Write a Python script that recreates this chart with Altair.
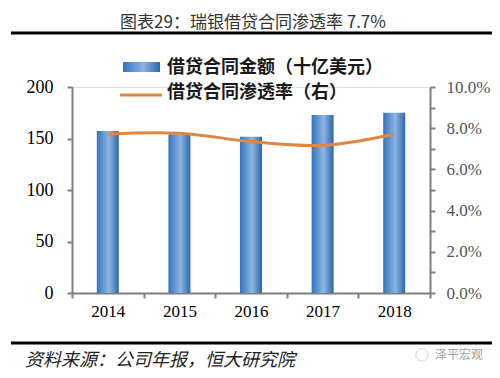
import altair as alt
import pandas as pd

years = ["2014", "2015", "2016", "2017", "2018"]
amount = [157.4, 154.2, 151.6, 172.9, 175.1]
rate = [0.0772, 0.0776, 0.0735, 0.0717, 0.0771]

title_text = "图表29：瑞银借贷合同渗透率 7.7%"
legend_bar = "借贷合同金额（十亿美元）"
legend_line = "借贷合同渗透率（右）"
source_text = "资料来源：公司年报，恒大研究院"
watermark = "泽平宏观"

df = pd.DataFrame({"year": years, "amount": amount, "rate": rate})

W, H = 358, 206
CJK = "Noto Sans CJK SC"
NUM = "Liberation Serif"
AXIS_GRAY = "#7f7f7f"
ORANGE = "#E0873F"

grad = alt.Gradient(
    gradient="linear",
    stops=[
        alt.GradientStop(color="#3474BC", offset=0),
        alt.GradientStop(color="#8DB5E2", offset=0.55),
        alt.GradientStop(color="#2C67AA", offset=1),
    ],
    x1=0, x2=1, y1=0, y2=0,
)

xenc = alt.X(
    "year:N",
    sort=years,
    scale=alt.Scale(paddingInner=0, paddingOuter=0),
    axis=alt.Axis(
        title=None, labelAngle=0, labelFont=NUM, labelFontSize=17, labelColor="#000",
        domainColor=AXIS_GRAY, domainWidth=2, tickColor=AXIS_GRAY, tickWidth=2,
        tickSize=5, tickBand="extent", labelPadding=5, grid=False,
    ),
)

bars = alt.Chart(df).mark_bar(size=22, color=grad).encode(
    x=xenc,
    y=alt.Y(
        "amount:Q",
        scale=alt.Scale(domain=[0, 200], nice=False),
        axis=alt.Axis(
            title=None, values=[0, 50, 100, 150, 200], labelFont=NUM, labelFontSize=18,
            labelColor="#000", domainColor=AXIS_GRAY, domainWidth=2, tickColor=AXIS_GRAY,
            tickWidth=2, tickSize=5, labelPadding=14, grid=False,
        ),
    ),
)

line = alt.Chart(df).mark_line(color=ORANGE, strokeWidth=3, interpolate="cardinal").encode(
    x=alt.X("year:N", sort=years),
    y=alt.Y(
        "rate:Q",
        scale=alt.Scale(domain=[0, 0.1], nice=False),
        axis=alt.Axis(
            title=None, orient="right",
            values=[i / 100 for i in range(11)],
            labelExpr="round(datum.value*100) % 2 == 0 ? format(datum.value, '.1%') : ''",
            labelFont=NUM, labelFontSize=17, labelColor="#555",
            domainColor=AXIS_GRAY, domainWidth=2, tickColor=AXIS_GRAY, tickWidth=2,
            tickSize=5, labelPadding=11, grid=False,
        ),
    ),
)

one = pd.DataFrame({"a": [0]})

def txt(s, x, y, **kw):
    return alt.Chart(one).mark_text(text=s, **kw).encode(x=alt.value(x), y=alt.value(y))

def hrule(x1, x2, y, color, width):
    return alt.Chart(one).mark_rule(color=color, strokeWidth=width).encode(
        x=alt.value(x1), x2=alt.value(x2), y=alt.value(y)
    )

title = txt(title_text, 181, -59, font=CJK, fontSize=17, color="#333", align="center",
            baseline="alphabetic")
top_rule = hrule(-61, 420, -54, "#000", 3)
bottom_rule = hrule(-61, 420, 256, "#000", 3)
source = txt(source_text, -47, 274, font=CJK, fontSize=18, fontStyle="italic", color="#222",
             align="left", baseline="middle")
wm = txt(watermark, 411, 268, font=CJK, fontSize=12, color="#a0a0a0", align="right", baseline="middle")
wm_icon = alt.Chart(one).mark_point(shape="circle", size=150, color="#c8c8c8", strokeWidth=1).encode(
    x=alt.value(350), y=alt.value(268)
)

leg_swatch = alt.Chart(one).mark_rect(color=grad).encode(
    x=alt.value(51), x2=alt.value(88), y=alt.value(-25), y2=alt.value(-15)
)
leg_line = hrule(48, 90, 8, ORANGE, 3)
leg_t1 = txt(legend_bar, 95, -19, font=CJK, fontSize=18, fontWeight="bold", color="#1a1a1a",
             align="left", baseline="middle")
leg_t2 = txt(legend_line, 95, 6, font=CJK, fontSize=18, fontWeight="bold", color="#1a1a1a",
             align="left", baseline="middle")

chart = alt.layer(
    bars, line, title, top_rule, bottom_rule, source, wm, wm_icon,
    leg_swatch, leg_line, leg_t1, leg_t2,
).resolve_scale(y="independent").properties(
    width=W, height=H,
    autosize=alt.AutoSizeParams(type="none"),
    padding={"left": 64, "top": 79, "right": 62, "bottom": 77},
).configure_view(stroke=None).configure(background="white")

chart.save("out.html", embed_options={"renderer": "svg", "actions": False})
